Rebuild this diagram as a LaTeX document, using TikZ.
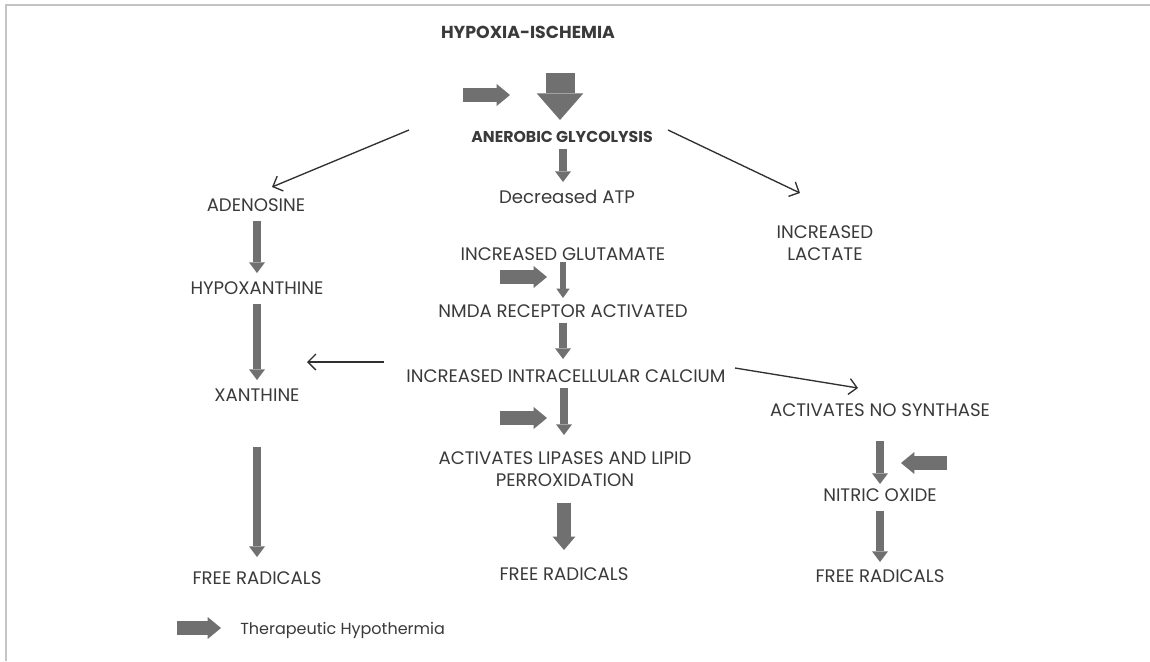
\documentclass[tikz,border=0pt]{standalone}
\usepackage{fontspec}
\setmainfont{Poppins}
\usetikzlibrary{arrows.meta,calc}
\definecolor{txtgray}{HTML}{3A3A3A}
\definecolor{arrgray}{HTML}{707070}
\definecolor{framegray}{HTML}{C4C4C4}
\definecolor{linegray}{HTML}{303030}
\tikzset{
  lbl/.style={font=\fontsize{13.6}{17}\selectfont, text=txtgray, inner sep=0pt, align=center},
  boldlbl/.style={lbl, font=\fontsize{11.8}{14}\selectfont\bfseries},
  titlelbl/.style={lbl, font=\fontsize{13}{15}\selectfont\bfseries},
  legendlbl/.style={lbl, font=\fontsize{12}{14}\selectfont},
  blk/.style={draw=arrgray, line width=6pt, -{Triangle[width=12pt,length=8pt,line width=0pt]}},
  blkthin/.style={draw=arrgray, line width=4.5pt, -{Triangle[width=10pt,length=7pt,line width=0pt]}},
  blkmid/.style={draw=arrgray, line width=10pt, -{Triangle[width=17pt,length=10pt,line width=0pt]}},
  blkbig/.style={draw=arrgray, line width=21.75pt, -{Triangle[width=35pt,length=20pt,line width=0pt]}},
  thera/.style={draw=arrgray, line width=10pt, -{Triangle[width=16.5pt,length=10pt,line width=0pt]}},
  thin/.style={draw=linegray, line width=1pt, -{Straight Barb[length=6pt,width=12pt]}},
}
\begin{document}
\begin{tikzpicture}[x=0.75pt,y=-0.75pt]
\useasboundingbox (0,0) rectangle (1150,661);
\fill[white] (0,0) rectangle (1150,661);
% frame
\draw[framegray, line width=1.5pt] (5.5,661) -- (5.5,4.5) -- (1150,4.5);

% nodes
\node[titlelbl] (title) at (528,32) {HYPOXIA-ISCHEMIA};
\node[boldlbl] (anaer) at (562,137) {ANEROBIC GLYCOLYSIS};
\node[lbl] (atp) at (567,197) {Decreased ATP};
\node[lbl] (adeno) at (256,205) {ADENOSINE};
\node[lbl] (hypox) at (257,288) {HYPOXANTHINE};
\node[lbl] (xanth) at (257,395) {XANTHINE};
\node[lbl] (free1) at (257,578) {FREE RADICALS};
\node[lbl] (lact) at (825,243) {INCREASED\\LACTATE};
\node[lbl] (glut) at (563,254) {INCREASED GLUTAMATE};
\node[lbl] (nmda) at (563,311) {NMDA RECEPTOR ACTIVATED};
\node[lbl] (calc) at (566,376) {INCREASED INTRACELLULAR CALCIUM};
\node[lbl] (nos) at (880,410) {ACTIVATES NO SYNTHASE};
\node[lbl] (lipid) at (565,469) {ACTIVATES LIPASES AND LIPID\\PERROXIDATION};
\node[lbl] (nitric) at (880,495) {NITRIC OXIDE};
\node[lbl] (free2) at (564,574) {FREE RADICALS};
\node[lbl] (free3) at (880,576) {FREE RADICALS};
\node[legendlbl, anchor=west] (legend) at (240,630) {Therapeutic Hypothermia};

% block connectors
\draw[blkbig] ($(anaer)+(-2,-64)$) -- ($(anaer)+(-2,-17)$);
\draw[blk] ($(anaer)+(1,12)$) -- ($(atp)+(-4,-15)$);
\draw[blk] ($(adeno)+(1,16)$) -- ($(hypox)+(0,-15)$);
\draw[blk] ($(hypox)+(0,16)$) -- ($(xanth)+(0,-15)$);
\draw[blk] ($(xanth)+(0,52)$) -- ($(free1)+(0,-21)$);
\draw[blkthin] ($(glut)+(0,8)$) -- ($(nmda)+(0,-13)$);
\draw[blk] ($(nmda)+(0,12)$) -- ($(nmda)+(0,48)$);
\draw[blk] ($(calc)+(-2,12)$) -- ($(lipid)+(-1,-34)$);
\draw[blkmid] ($(lipid)+(-1,34)$) -- ($(free2)+(0,-24)$);
\draw[blk] ($(nos)+(0,31)$) -- ($(nitric)+(0,-11)$);
\draw[blk] ($(nitric)+(0,16)$) -- ($(free3)+(0,-14)$);

% thin connectors
\draw[thin] ($(anaer)+(-153,-7)$) -- ($(adeno)+(16,-18)$);
\draw[thin] ($(anaer)+(106,-7)$) -- ($(lact)+(-25,-50)$);
\draw[thin] ($(calc)+(-182,-14)$) -- ($(xanth)+(50,-33)$);
\draw[thin] ($(calc)+(169,-8)$) -- ($(nos)+(-22,-22)$);

% therapeutic hypothermia markers
\draw[thera] (463,95) -- (510,95);
\draw[thera] (500,277) -- (547,277);
\draw[thera] (500,418) -- (547,418);
\draw[thera] (947,463) -- (901,463);
\draw[thera] ($(legend.west)+(-63,-2)$) -- ($(legend.west)+(-19,-2)$);
\end{tikzpicture}
\end{document}
